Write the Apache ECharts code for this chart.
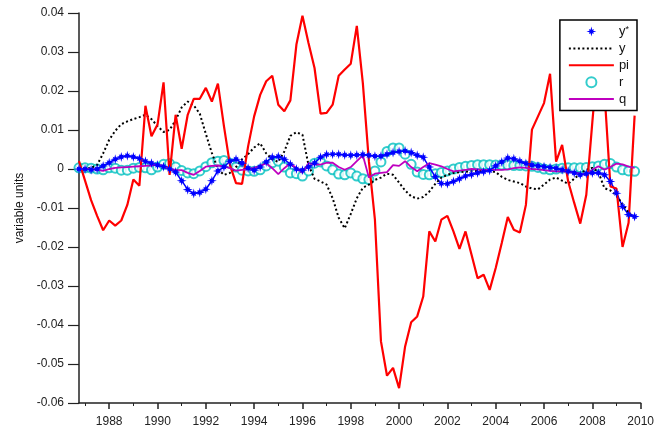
<!DOCTYPE html>
<html>
<head>
<meta charset="utf-8">
<script src="https://cdn.jsdelivr.net/npm/echarts@6/dist/echarts.min.js"></script>
<style>
  html, body { margin: 0; padding: 0; background: #fff; }
  #output { width: 657px; height: 433px; }
</style>
</head>
<body>
<div id="output"></div>
<script>
const chart = echarts.init(document.getElementById('output'));

// quarterly observations, first one is 1986 Q4
const startYear = 1986.75
const step = 0.25

const yStar = [
  0, 0, -0.0002, 0, 0.0008, 0.0016, 0.0025, 0.0031, 0.0034, 0.0031,
  0.0027, 0.002, 0.0015, 0.001, 0.0006, 0, -0.0008, -0.003, -0.0053, -0.0063,
  -0.006, -0.0052, -0.003, -0.0005, 0.0005, 0.002, 0.0025, 0.0015, 0.0002, -0.0003,
  0.0005, 0.0018, 0.003, 0.0032, 0.0025, 0.0012, 0, -0.0003, 0.0005, 0.0015,
  0.003, 0.0037, 0.0038, 0.0038, 0.0036, 0.0035, 0.0036, 0.0037, 0.0035, 0.0033,
  0.0033, 0.0038, 0.0042, 0.0045, 0.0046, 0.0042, 0.0035, 0.003, 0.0005, -0.002,
  -0.0037, -0.0038, -0.0032, -0.0025, -0.0018, -0.0014, -0.001, -0.0007, -0.0004, 0.0008,
  0.0018, 0.0028, 0.0026, 0.002, 0.0014, 0.001, 0.0008, 0.0006, 0.0004, 0.0002,
  -0.0002, -0.0006, -0.001, -0.0015, -0.0012, -0.001, -0.001, -0.0015, -0.0032, -0.0062,
  -0.0096, -0.0117, -0.0122
]

const yGap = [
  0, 0, 0.0003, 0.001, 0.004, 0.0075, 0.0098, 0.0115, 0.0122, 0.0128,
  0.0133, 0.0139, 0.0128, 0.011, 0.0095, 0.01, 0.0125, 0.0158, 0.0173, 0.0163,
  0.0142, 0.009, 0.0041, 0, -0.0015, -0.001, 0.0005, 0.0025, 0.0038, 0.0055,
  0.0066, 0.004, 0.0025, 0.0018, 0.0045, 0.0085, 0.0094, 0.0088, 0.001, -0.0025,
  -0.0032, -0.004, -0.0075, -0.0125, -0.0152, -0.0115, -0.0075, -0.0048, -0.004, -0.0028,
  -0.0022, -0.0012, -0.0015, -0.0035, -0.0055, -0.007, -0.0076, -0.0072, -0.0058, -0.0038,
  -0.0022, -0.0015, -0.001, -0.0008, -0.0007, -0.0006, -0.0005, -0.0005, -0.0005, -0.0008,
  -0.002, -0.0028, -0.0032, -0.0036, -0.0045, -0.005, -0.0052, -0.004, -0.0027, -0.0022,
  -0.003, -0.0038, -0.0025, -0.0012, -0.0002, 0.0003, -0.0008, -0.0049, -0.0055, -0.0068,
  -0.009, -0.0112, -0.0125
]

const pi = [
  0.002, -0.003, -0.008, -0.012, -0.0157, -0.0132, -0.0145, -0.0132, -0.0092, -0.0027,
  -0.0043, 0.0162, 0.0084, 0.0114, 0.0222, -0.0015, 0.0139, 0.0052, 0.0139, 0.018,
  0.018, 0.0208, 0.0173, 0.0219, 0.011, 0.001, -0.0036, -0.0038, 0.0058, 0.0135,
  0.019, 0.0225, 0.0239, 0.0165, 0.0148, 0.0176, 0.0319, 0.0393, 0.0323, 0.0259,
  0.0142, 0.0144, 0.0165, 0.0239, 0.0255, 0.027, 0.0367, 0.022, 0.002, -0.013,
  -0.0442, -0.053, -0.051, -0.0562, -0.0455, -0.0393, -0.0378, -0.0327, -0.016, -0.0186,
  -0.013, -0.012, -0.016, -0.0205, -0.016, -0.022, -0.028, -0.0271, -0.031, -0.0254,
  -0.019, -0.0123, -0.0156, -0.0163, -0.0092, 0.0101, 0.0135, 0.0169, 0.0244, 0.0019,
  0.0062, -0.0032, -0.0087, -0.014, -0.0066, 0.012, 0.03, 0.02, -0.0045, -0.005,
  -0.02, -0.0138, 0.0137
]

const r = [
  0.0003, 0.0003, 0.0002, 0, -0.0002, 0.0003, 0.0002, -0.0003, -0.0003, 0.0002,
  0.0004, 0.0003, -0.0002, 0.0005, 0.0012, 0.0014, 0.0005, -0.0004, -0.001, -0.0012,
  -0.0005, 0.0006, 0.0016, 0.002, 0.0022, 0.0015, 0.0005, -0.0003, -0.0005, -0.0006,
  -0.0002, 0.0008, 0.0016, 0.002, 0.0005, -0.001, -0.0012, -0.0018, -0.0005, 0.0015,
  0.0018, 0.0008, -0.0002, -0.0013, -0.0015, -0.001, -0.0018, -0.0025, -0.0027, -0.0005,
  0.0018, 0.0045, 0.0054, 0.0054, 0.0038, 0.0012, -0.0008, -0.0014, -0.0015, -0.0012,
  -0.0009, -0.0005, 0, 0.0004, 0.0007, 0.0009, 0.0011, 0.0011, 0.0011, 0.001,
  0.001, 0.001, 0.0009, 0.0009, 0.0008, 0.0007, 0.0004, 0, -0.0002, 0,
  0.0002, 0.0003, 0.0003, 0.0003, 0.0004, 0.0006, 0.0008, 0.0012, 0.0014, 0.0005,
  -0.0002, -0.0005, -0.0006
]

const q = [
  0, 0, 0, -0.0002, -0.0005, 0, 0.0003, 0.0004, 0.0005, 0.0006,
  0.0007, 0.0008, 0.0009, 0.0011, 0.0008, 0, -0.0002, -0.0003, -0.001, -0.0015,
  -0.0005, 0.0006, 0.0008, 0.0009, 0.0007, 0.0002, -0.0004, -0.0002, 0, 0.0003,
  0.0008, 0.0015, 0.0002, -0.0013, 0.0002, 0.0015, 0.0002, -0.001, 0.0015, 0.0012,
  0.0011, 0.0016, 0.0016, 0.0005, -0.0002, 0.0005, 0.002, 0.0035, -0.0022, -0.0012,
  -0.001, -0.0008, 0.001, 0.0008, 0.002, 0.0005, -0.0006, 0.0005, 0.0015, 0.0011,
  0.0007, 0, -0.0006, -0.0004, -0.0002, 0, -0.0001, -0.0002, -0.0002, -0.0002,
  -0.0002, -0.0001, 0.0002, 0.0004, 0.0003, 0, -0.0001, -0.0003, -0.0005, -0.0006,
  -0.0006, -0.0007, -0.0008, -0.0012, -0.0015, -0.0002, 0.0007, -0.0002, 0.0005, 0.0014,
  0.0012, 0.0006, 0.0003
]

const majorYears = [1988, 1990, 1992, 1994, 1996, 1998, 2000, 2002, 2004, 2006, 2008, 2010]
const minorYears = [1987, 1989, 1991, 1993, 1995, 1997, 1999, 2001, 2003, 2005, 2007, 2009]

const starPath = 'path://M0,-10L1.6,-3.6L5,-5L3.6,-1.6L10,0L3.6,1.6L5,5L1.6,3.6L0,10L-1.6,3.6L-5,5L-3.6,1.6L-10,0L-3.6,-1.6L-5,-5L-1.6,-3.6Z'

function pairs (values) {
  return values.map((v, i) => [startYear + i * step, v])
}

const font = 'Liberation Sans, Arial, sans-serif'
const axisColor = '#222'

chart.setOption({
  animation: false,
  backgroundColor: '#fff',
  grid: { left: 79, right: 14, top: 13, bottom: 30 },
  legend: {
    orient: 'vertical',
    right: 20,
    top: 20,
    padding: [5, 8, 5, 8],
    itemWidth: 45,
    itemHeight: 10,
    itemGap: 3.9,
    backgroundColor: '#fff',
    borderColor: '#000',
    borderWidth: 1.5,
    borderRadius: 0,
    textStyle: {
      fontFamily: font,
      fontSize: 13,
      color: '#111',
      rich: { s: { fontSize: 9, verticalAlign: 'top', fontFamily: font, color: '#111' } }
    },
    formatter: name => name === 'y*' ? 'y{s|*}' : name,
    data: [
      { name: 'y*', icon: starPath },
      { name: 'y', itemStyle: { opacity: 0 } },
      { name: 'pi', itemStyle: { opacity: 0 } },
      'r',
      { name: 'q', itemStyle: { opacity: 0 } }
    ]
  },
  xAxis: [
    {
      type: 'value',
      min: startYear,
      max: 2010,
      splitLine: { show: false },
      axisLine: { onZero: false, lineStyle: { color: axisColor, width: 1.5 } },
      axisTick: { customValues: majorYears, length: 6, lineStyle: { color: axisColor, width: 1.5 } },
      axisLabel: {
        customValues: majorYears,
        formatter: v => String(Math.round(v)),
        margin: 13,
        fontFamily: font,
        fontSize: 12,
        color: axisColor
      }
    },
    {
      type: 'value',
      min: startYear,
      max: 2010,
      position: 'bottom',
      splitLine: { show: false },
      axisLine: { show: false, onZero: false },
      axisTick: { customValues: minorYears, length: 3, lineStyle: { color: axisColor, width: 1 } },
      axisLabel: { show: false }
    }
  ],
  yAxis: {
    type: 'value',
    min: -0.06,
    max: 0.04,
    interval: 0.01,
    name: 'variable units',
    nameLocation: 'middle',
    nameRotate: 90,
    nameGap: 53,
    nameTextStyle: { fontFamily: font, fontSize: 12, color: '#111' },
    splitLine: { show: false },
    axisLine: { show: true, lineStyle: { color: axisColor, width: 1.5 } },
    axisTick: { show: true, length: 11, lineStyle: { color: axisColor, width: 1.2 } },
    axisLabel: {
      margin: 15,
      fontFamily: font,
      fontSize: 12,
      color: axisColor,
      formatter: v => String(Math.round(v * 100) / 100)
    }
  },
  series: [
    {
      name: 'y*',
      type: 'line',
      data: pairs(yStar),
      symbol: starPath,
      symbolSize: 10,
      showAllSymbol: true,
      itemStyle: { color: '#0000ff' },
      lineStyle: { color: '#0000ff', width: 1.5 }
    },
    {
      name: 'y',
      type: 'line',
      data: pairs(yGap),
      symbol: 'none',
      itemStyle: { color: '#000' },
      lineStyle: { color: '#000', width: 2, type: [2, 2.5] }
    },
    {
      name: 'pi',
      type: 'line',
      data: pairs(pi),
      symbol: 'none',
      itemStyle: { color: '#ff0000' },
      lineStyle: { color: '#ff0000', width: 2.2 }
    },
    {
      name: 'r',
      type: 'scatter',
      data: pairs(r),
      symbol: 'emptyCircle',
      symbolSize: 9,
      itemStyle: { color: '#00bfbf', borderColor: '#00bfbf', borderWidth: 2 }
    },
    {
      name: 'q',
      type: 'line',
      data: pairs(q),
      symbol: 'none',
      itemStyle: { color: '#bf00bf' },
      lineStyle: { color: '#bf00bf', width: 1.8 }
    }
  ]
});
</script>
</body>
</html>
